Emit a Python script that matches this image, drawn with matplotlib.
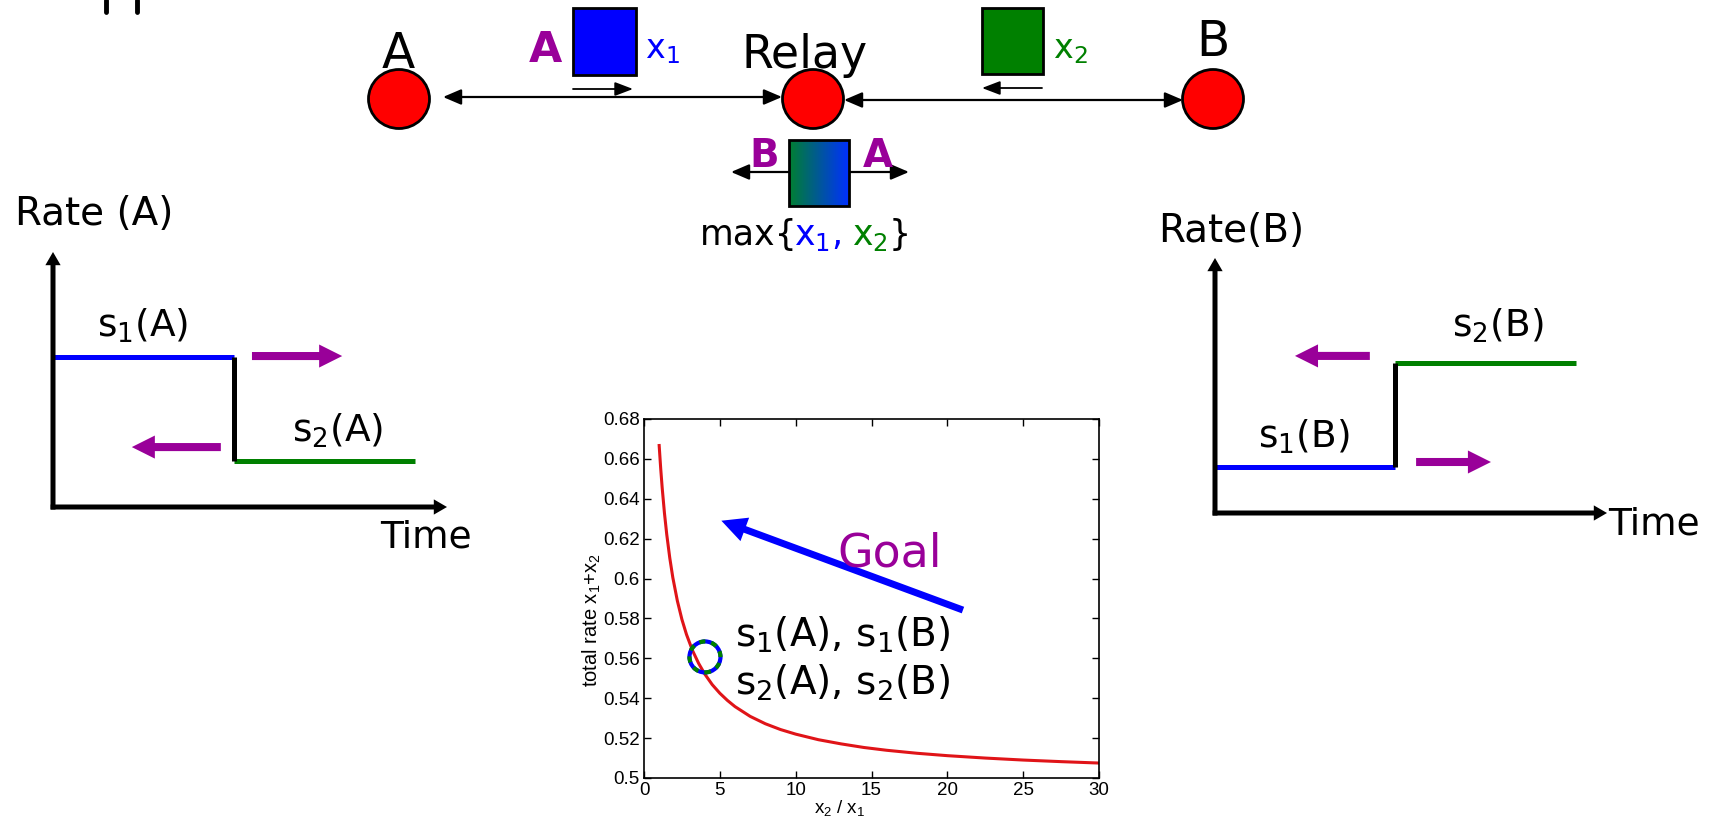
import numpy as np
import matplotlib
matplotlib.use('Agg')
from matplotlib import pyplot as plt
from matplotlib.patches import Ellipse, Rectangle, Circle
from matplotlib.colors import LinearSegmentedColormap
from matplotlib.transforms import ScaledTranslation

plt.rcParams['font.family'] = 'DejaVu Sans'
plt.rcParams['mathtext.default'] = 'regular'

PURPLE = '#990099'
GREEN = '#008000'
BLUE = '#0000ff'

# total rate x1+x2 against x2/x1
ratio = [1, 1.1, 1.2, 1.35, 1.5, 1.7, 1.9, 2.2, 2.5, 2.8, 3.2, 3.6, 4, 4.5, 5, 5.5, 6,
         7, 8, 9, 10, 11.5, 13, 14.5, 16, 18, 20, 22.5, 25, 27.5, 30]
total_rate = [0.6667, 0.6553, 0.6454, 0.6327, 0.6221, 0.6103, 0.6005, 0.5888, 0.5795,
              0.5720, 0.5639, 0.5575, 0.5522, 0.5468, 0.5425, 0.5389, 0.5358, 0.5309,
              0.5272, 0.5243, 0.5220, 0.5192, 0.5171, 0.5153, 0.5139, 0.5124, 0.5112,
              0.5100, 0.5090, 0.5082, 0.5075]
op_ratio = 4.02
op_rate = 0.5607
xticks = [0, 5, 10, 15, 20, 25, 30]
yticks = [0.5, 0.52, 0.54, 0.56, 0.58, 0.6, 0.62, 0.64, 0.66, 0.68]
ytick_labels = ['0.5', '0.52', '0.54', '0.56', '0.58', '0.6', '0.62', '0.64', '0.66', '0.68']

# step rates of the two sources (sketch units)
t_switch = 4.6
t_end = 9.2
rate_a = [5.9, 1.8]   # s1(A), s2(A)
rate_b = [1.8, 5.9]   # s1(B), s2(B)

node_names = ['A', 'Relay', 'B']


def arrow(ax, start, end, style='-|>', lw=1.6, color='k', ms=10):
    ax.annotate('', xy=end, xytext=start, annotation_clip=False,
                arrowprops=dict(arrowstyle=style, lw=lw, color=color,
                                shrinkA=0, shrinkB=0, mutation_scale=ms))


def fat_arrow(ax, start, end, color, tail, head_w, head_l):
    style = 'simple,tail_width=%g,head_width=%g,head_length=%g' % (tail, head_w, head_l)
    ax.annotate('', xy=end, xytext=start, annotation_clip=False,
                arrowprops=dict(arrowstyle=style, color=color, lw=0,
                                shrinkA=0, shrinkB=0, mutation_scale=10))


fig = plt.figure(figsize=(17.11, 8.18), dpi=100)

# ---- top: relay topology, drawn in pixel units
top = fig.add_axes([0, 0, 1, 1])
top.axis('off')

# cut-off title descenders
top.plot([106, 106], [0, 12], color='k', lw=3.5, solid_capstyle='round')
top.plot([137, 137], [0, 12], color='k', lw=3.5, solid_capstyle='round')

node_x = [399, 813, 1213]
for name, x, lx, ly, fs in zip(node_names, node_x, [398, 805, 1213], [68, 68, 56], [35, 33, 35]):
    top.add_patch(Ellipse((x, 99), 61, 59, facecolor='#ff0000', edgecolor='k', lw=2, zorder=3))
    top.text(lx, ly, name, fontsize=fs, ha='center', va='baseline', zorder=4)

arrow(top, (443, 97), (782, 97), style='<|-|>,head_length=1.1,head_width=0.47')
arrow(top, (844, 100), (1183, 100), style='<|-|>,head_length=1.1,head_width=0.47')

# packets
top.add_patch(Rectangle((573, 8), 63, 67, facecolor=BLUE, edgecolor='k', lw=2))
top.add_patch(Rectangle((982, 8), 61, 66, facecolor=GREEN, edgecolor='k', lw=2))
arrow(top, (573, 89), (633, 89), style='-|>,head_length=1.1,head_width=0.42', lw=1.3)
arrow(top, (1042, 88), (982, 88), style='-|>,head_length=1.1,head_width=0.42', lw=1.3)
top.text(545, 62, 'A', fontsize=31, fontweight='bold', color=PURPLE, ha='center', va='baseline')
top.text(645, 58, 'x$_1$', fontsize=24, color=BLUE, va='baseline')
top.text(1053, 58, 'x$_2$', fontsize=24, color=GREEN, va='baseline')

# coded packet broadcast by the relay
arrow(top, (731, 172), (909, 172), style='<|-|>,head_length=1.1,head_width=0.47')
grad = LinearSegmentedColormap.from_list('gb', ['#008030', '#0030ff'])
top.imshow(np.linspace(0, 1, 256).reshape(1, -1), cmap=grad, extent=(789, 849, 206, 140),
           aspect='auto', zorder=3)
top.add_patch(Rectangle((789, 140), 60, 66, facecolor='none', edgecolor='k', lw=2, zorder=4))
top.text(764, 167, 'B', fontsize=28, fontweight='bold', color=PURPLE, ha='center', va='baseline')
top.text(878, 167, 'A', fontsize=28, fontweight='bold', color=PURPLE, ha='center', va='baseline')
for s, x, c in [('max{', 700, 'k'), ('x$_1$,', 794, BLUE), ('x$_2$', 852, GREEN), ('}', 889, 'k')]:
    top.text(x, 245, s, fontsize=25, color=c, va='baseline')

top.set_xlim(0, 1711)
top.set_ylim(818, 0)


# ---- side sketches: rate against time
def rate_sketch(rect, levels, left_arrow, right_arrow, labels, title, title_xy, time_xy):
    ax = fig.add_axes(rect)
    ax.axis('off')
    ax.set_xlim(0, 10)
    ax.set_ylim(0, 10)
    fat_arrow(ax, (-0.06, 0), (10, 0), 'k', 0.36, 1.1, 0.95)
    fat_arrow(ax, (0, -0.1), (0, 10), 'k', 0.36, 1.1, 0.95)
    ax.plot([0, t_switch], [levels[0], levels[0]], color=BLUE, lw=3.6, solid_capstyle='butt')
    ax.plot([t_switch, t_end], [levels[1], levels[1]], color=GREEN, lw=3.6, solid_capstyle='butt')
    ax.plot([t_switch, t_switch], levels, color='k', lw=3.6, solid_capstyle='butt')
    fat_arrow(ax, left_arrow[0], left_arrow[1], PURPLE, 0.58, 1.66, 1.66)
    fat_arrow(ax, right_arrow[0], right_arrow[1], PURPLE, 0.58, 1.66, 1.66)
    for s, xy in labels:
        ax.text(xy[0], xy[1], s, fontsize=27, va='baseline')
    ax.text(title_xy[0], title_xy[1], title, fontsize=28, va='baseline')
    ax.text(time_xy[0], time_xy[1], 'Time', fontsize=27, va='baseline')
    return ax


rate_sketch([53 / 1711, 311 / 818, 394 / 1711, 255 / 818], rate_a,
            ((4.26, 2.35), (2.0, 2.35)), ((5.05, 5.92), (7.34, 5.92)),
            [('s$_1$(A)', (1.12, 6.67)), ('s$_2$(A)', (6.07, 2.55))],
            'Rate (A)', (-0.96, 11.06), (8.3, -1.6))
rate_sketch([1215 / 1711, 305 / 818, 392 / 1711, 255 / 818], rate_b,
            ((3.95, 6.16), (2.04, 6.16)), ((5.13, 2.0), (7.04, 2.0)),
            [('s$_2$(B)', (6.05, 6.9)), ('s$_1$(B)', (1.1, 2.55))],
            'Rate(B)', (-1.45, 10.63), (10.03, -0.86))

# ---- centre: total rate curve
ax = fig.add_axes([644 / 1711, 40 / 818, 455 / 1711, 359 / 818])
ax.plot(ratio, total_rate, color='#e01418', lw=2.2)

# operating point: blue ring with green dashes, fixed size in points
ring = fig.dpi_scale_trans + ScaledTranslation(op_ratio, op_rate, ax.transData)
ax.add_patch(Circle((0, 0), 0.155, transform=ring, facecolor='none', edgecolor=BLUE, lw=3, zorder=4))
ax.add_patch(Circle((0, 0), 0.155, transform=ring, facecolor='none', edgecolor=GREEN, lw=3,
                    linestyle=(0, (1.45, 1.45)), zorder=5))

fat_arrow(ax, (21.03, 0.5842), (5.1, 0.629), BLUE, 0.5, 1.8, 1.8)
ax.text(12.73, 0.6058, 'Goal', fontsize=33, color=PURPLE, va='baseline')
ax.text(6.0, 0.5657, 's$_1$(A), s$_1$(B)', fontsize=28, va='baseline')
ax.text(6.0, 0.5416, 's$_2$(A), s$_2$(B)', fontsize=28, va='baseline')

ax.set_xlim(0, 30)
ax.set_ylim(0.5, 0.68)
ax.set_xticks(xticks)
ax.set_yticks(yticks)
ax.set_yticklabels(ytick_labels)
for lab in ax.get_xticklabels() + ax.get_yticklabels():
    lab.set_fontfamily('Liberation Sans')
ax.tick_params(direction='in', top=True, right=True, length=5, width=1, labelsize=13.5, pad=3)
for sp in ax.spines.values():
    sp.set_linewidth(1.2)
ax.set_xlabel('x$_2$ / x$_1$', fontsize=13.5, fontfamily='Liberation Sans')
ax.set_ylabel('total rate x$_1$+x$_2$', fontsize=14.5, fontfamily='Liberation Sans')
ax.xaxis.set_label_coords(0.43, -0.055)
ax.yaxis.set_label_coords(-0.09, 0.44)

fig.savefig('out.png', dpi=100)
